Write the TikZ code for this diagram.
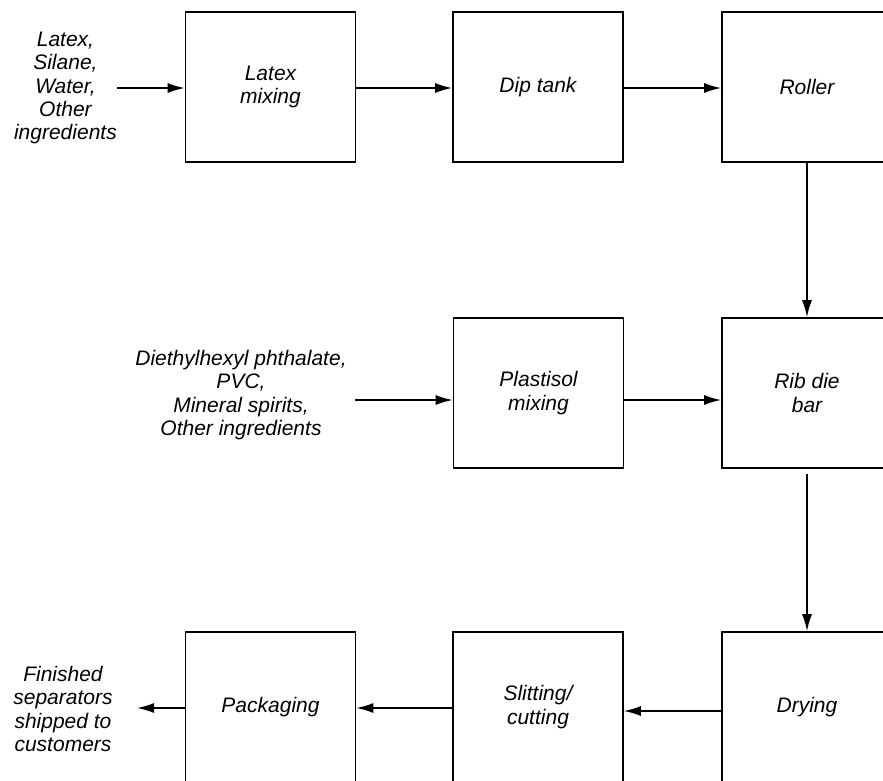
\documentclass[tikz,border=0pt]{standalone}
\usepackage{fontspec}
\setmainfont{Liberation Sans}
\usetikzlibrary{arrows.meta}
\newcommand{\flowFont}[0]{\fontsize{21}{23.4}\selectfont\itshape}

\begin{document}
\begin{tikzpicture}[x=1pt, y=-1pt]
  \tikzset{stepbox/.style={draw, line width=1.6pt, minimum width=170pt, minimum height=150pt, inner sep=0pt, align=center, font=\flowFont},
           feed/.style={align=center, font=\flowFont, inner sep=0pt},
           flow/.style={-{Latex[length=17pt,width=10pt]}, line width=1.6pt}}
  \useasboundingbox (0,0) rectangle (883,780);
  \clip (0,0) rectangle (883,780);
  \node[stepbox] (latexmix) at (270.5,87) {Latex\\mixing};
  \node[stepbox] (diptank) at (538,87) {Dip tank};
  \node[stepbox] (roller) at (807,87) {Roller};
  \node[stepbox] (plastisol) at (538.5,393) {Plastisol\\mixing};
  \node[stepbox] (ribdie) at (807,393) {Rib die\\bar};
  \node[stepbox] (packaging) at (270.5,707) {Packaging};
  \node[stepbox] (slitting) at (538,707) {Slitting/\\cutting};
  \node[stepbox] (drying) at (807,707) {Drying};
  \node[feed, anchor=east] (latexin) at (117,88) {Latex,\\Silane,\\Water,\\Other\\ingredients};
  \node[feed] (plastisolin) at (241,395) {Diethylhexyl phthalate,\\PVC,\\Mineral spirits,\\Other ingredients};
  \node[feed] (shipped) at (63,709) {Finished\\separators\\shipped to\\customers};
  \coordinate (plastisolfeed) at (355,400);
  \coordinate (shipend) at (137,708);
  \draw[flow] ([yshift=-1pt]latexin.east |- latexmix.west) -- ([yshift=-1pt]latexmix.west);
  \draw[flow] ([yshift=-1pt]latexmix.east) -- ([yshift=-1pt]diptank.west);
  \draw[flow] ([yshift=-1pt]diptank.east) -- ([yshift=-1pt]roller.west);
  \draw[flow] (roller.south) -- (ribdie.north);
  \draw[flow] (plastisolfeed) -- ([yshift=-7pt]plastisol.west);
  \draw[flow] ([yshift=-7pt]plastisol.east) -- ([yshift=-7pt]ribdie.west);
  \draw[flow] ([yshift=-5pt]ribdie.south) -- (drying.north);
  \draw[flow] ([yshift=-4pt]drying.west) -- ([yshift=-4pt]slitting.east);
  \draw[flow] ([yshift=-1pt]slitting.west) -- ([yshift=-1pt]packaging.east);
  \draw[flow] ([yshift=-1pt]packaging.west) -- (shipend);
\end{tikzpicture}
\end{document}
